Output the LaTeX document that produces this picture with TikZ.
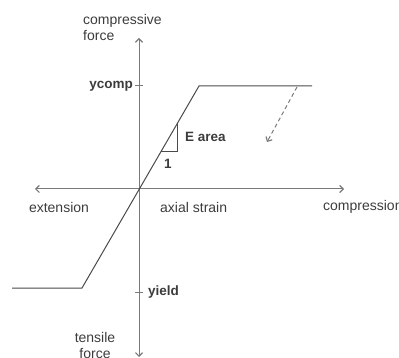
\documentclass[tikz,border=0pt]{standalone}
\usepackage{fontspec}
\setmainfont{Liberation Sans}
\usetikzlibrary{arrows.meta}
\definecolor{axisgray}{HTML}{7A7A7A}
\definecolor{curvegray}{HTML}{4A4A4A}
\definecolor{textgray}{HTML}{3C3C3C}
\begin{document}
\begin{tikzpicture}[x=1pt,y=-1pt,
  axisline/.style={draw=axisgray,line width=1pt},
  curveline/.style={draw=curvegray,line width=1pt},
  tip/.style={-{Straight Barb[length=3.5pt,width=7pt,line width=1.2pt]}},
  lbl/.style={text=textgray,inner sep=0pt,font=\fontsize{14}{16}\selectfont},
  blbl/.style={lbl,font=\fontsize{13.5}{16}\selectfont\bfseries}]
\useasboundingbox (0,0) rectangle (399,358);
% coordinates
\coordinate (O) at (139,189);
\coordinate (ytop) at (139,38);
\coordinate (ybot) at (139,357);
\coordinate (xleft) at (35,189);
\coordinate (xright) at (344,189);
\coordinate (c0) at (12,288);
\coordinate (c1) at (82,288);
\coordinate (c2) at (199,86);
\coordinate (c3) at (312,86);
\coordinate (t1) at (161,151);
\coordinate (t2) at (177,151);
\coordinate (t3) at (177,123);
\coordinate (d0) at (297,87);
\coordinate (d1) at (267,142);
\coordinate (k1a) at (135,86);
\coordinate (k1b) at (143,86);
\coordinate (k2a) at (135,292);
\coordinate (k2b) at (143,292);
% axes
\draw[axisline,{Straight Barb[length=3.5pt,width=7pt,line width=1.2pt]}-{Straight Barb[length=3.5pt,width=7pt,line width=1.2pt]}] (xleft) -- (xright);
\draw[axisline,tip] (O) -- (ytop);
\draw[axisline,tip] (O) -- (ybot);
\draw[axisline] (k1a) -- (k1b);
\draw[axisline] (k2a) -- (k2b);
% curve
\draw[curveline] (c0) -- (c1) -- (c2) -- (c3);
\draw[curvegray,line width=0.8pt] (t1) -- (t2) -- (t3);
\draw[axisline,dashed,dash pattern=on 4pt off 3pt,tip] (d0) -- (d1);
% labels
\node[blbl,anchor=east] (ycomp) at (133,86) {ycomp};
\node[blbl,anchor=west] (yield) at (148,292) {yield};
\node[blbl,anchor=west] (earea) at (185,137) {E area};
\node[blbl] (one) at (168,164) {1};
\node[lbl] (ext) at (59,207) {extension};
\node[lbl,anchor=west] (axs) at (160,207) {axial strain};
\node[lbl,anchor=west] (comp) at (323,207) {compression};
\node[lbl,anchor=west,align=left] (cf) at (83,27) {compressive\\force};
\node[lbl,align=center] (tf) at (95,345) {tensile\\force};
\end{tikzpicture}
\end{document}
